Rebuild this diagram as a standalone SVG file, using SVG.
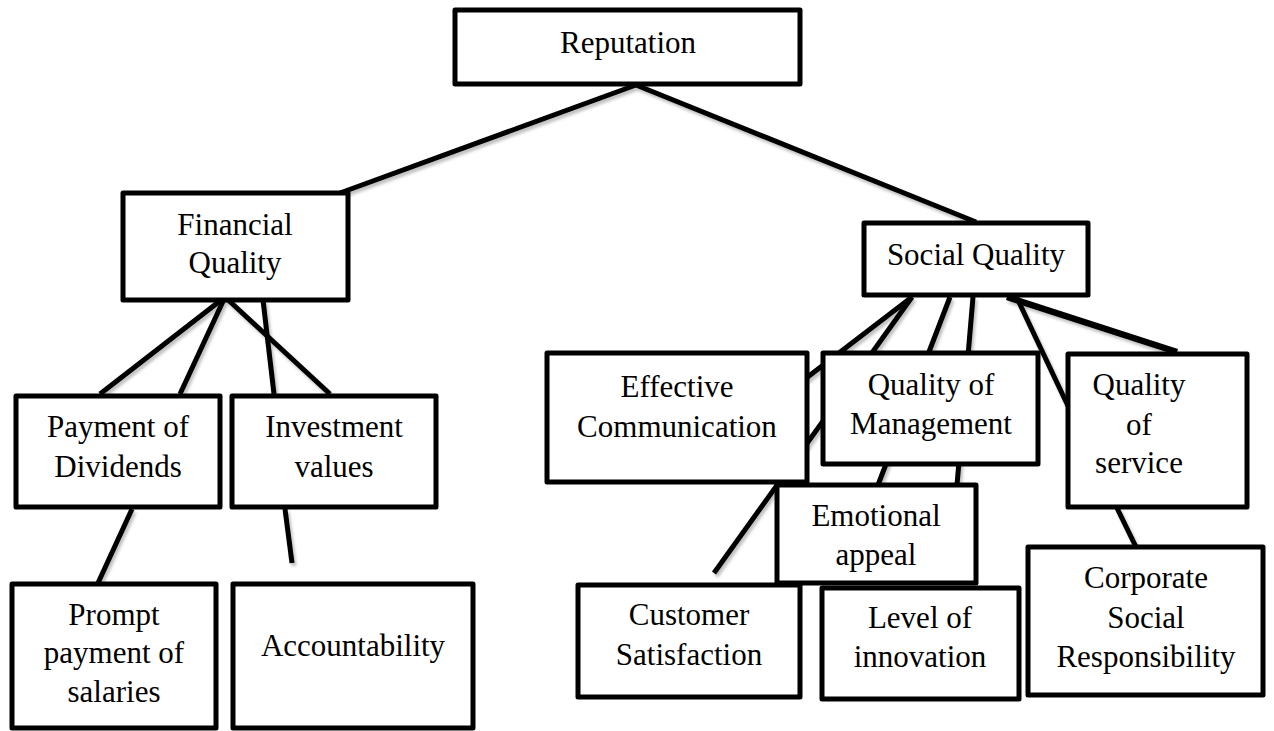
<svg xmlns="http://www.w3.org/2000/svg" width="1274" height="731" viewBox="0 0 1274 731">
  <defs>
    <filter id="soft" x="-10%" y="-10%" width="130%" height="130%">
      <feDropShadow dx="2" dy="3" stdDeviation="1.5" flood-color="#000" flood-opacity="0.25"/>
    </filter>
    <style>
      .box { fill: #fff; stroke: #000; stroke-width: 5; stroke-linejoin: round; }
      .link { stroke: #000; stroke-width: 5; fill: none; stroke-linecap: butt; }
      .thick { stroke-width: 6.5; }
      text { font-family: "Liberation Serif", "Times New Roman", serif; font-size: 31px; fill: #000; text-anchor: middle; }
    </style>
  </defs>
  <rect width="1274" height="731" fill="#fff"/>

  <!-- connectors (drawn first so boxes sit on top) -->
  <g id="connectors" filter="url(#soft)">
    <line class="link" x1="636" y1="85" x2="340" y2="193"/>
    <line class="link" x1="636" y1="85" x2="976" y2="222"/>
    <line class="link" x1="225" y1="297" x2="100" y2="394"/>
    <line class="link" x1="225" y1="297" x2="180" y2="394"/>
    <line class="link" x1="225" y1="297" x2="330" y2="394"/>
    <line class="link" x1="263" y1="300" x2="274" y2="394"/>
    <line class="link" x1="132" y1="509" x2="98" y2="583"/>
    <line class="link" x1="285" y1="509" x2="292" y2="563"/>
    <line class="link" x1="912" y1="297" x2="805" y2="379"/>
    <line class="link" x1="912" y1="297" x2="714" y2="573"/>
    <line class="link" x1="950" y1="297" x2="878" y2="485"/>
    <line class="link" x1="973" y1="297" x2="957" y2="485"/>
    <line class="link" x1="1017" y1="298" x2="1068" y2="406"/>
    <line class="link thick" x1="1007" y1="297" x2="1177" y2="352"/>
    <line class="link" x1="1117" y1="508" x2="1136" y2="547"/>
  </g>

  <g id="reputation">
    <rect class="box" x="455" y="10" width="345" height="74"/>
    <text x="628" y="53">Reputation</text>
  </g>

  <g id="financial-quality">
    <rect class="box" x="123" y="193" width="225" height="107"/>
    <text x="235" y="235">Financial</text>
    <text x="235" y="273">Quality</text>
  </g>

  <g id="social-quality">
    <rect class="box" x="864" y="223" width="224" height="72"/>
    <text x="976" y="265">Social Quality</text>
  </g>

  <g id="payment-of-dividends">
    <rect class="box" x="16" y="396" width="204" height="111"/>
    <text x="118" y="437">Payment of</text>
    <text x="118" y="477">Dividends</text>
  </g>

  <g id="investment-values">
    <rect class="box" x="232" y="396" width="204" height="111"/>
    <text x="334" y="437">Investment</text>
    <text x="334" y="477">values</text>
  </g>

  <g id="prompt-payment">
    <rect class="box" x="12" y="584" width="204" height="144"/>
    <text x="114" y="625">Prompt</text>
    <text x="114" y="663">payment of</text>
    <text x="114" y="702">salaries</text>
  </g>

  <g id="accountability">
    <rect class="box" x="233" y="584" width="240" height="144"/>
    <text x="353" y="656">Accountability</text>
  </g>

  <g id="effective-communication">
    <rect class="box" x="547" y="353" width="260" height="129"/>
    <text x="677" y="397">Effective</text>
    <text x="677" y="437">Communication</text>
  </g>

  <g id="quality-of-management">
    <rect class="box" x="823" y="353" width="215" height="111"/>
    <text x="931" y="395">Quality of</text>
    <text x="931" y="434">Management</text>
  </g>

  <g id="quality-of-service">
    <rect class="box" x="1068" y="354" width="179" height="153"/>
    <text x="1139" y="395">Quality</text>
    <text x="1139" y="435">of</text>
    <text x="1139" y="473">service</text>
  </g>

  <g id="emotional-appeal">
    <rect class="box" x="777" y="485" width="199" height="98"/>
    <text x="876" y="526">Emotional</text>
    <text x="876" y="565">appeal</text>
  </g>

  <g id="customer-satisfaction">
    <rect class="box" x="578" y="585" width="222" height="112"/>
    <text x="689" y="625">Customer</text>
    <text x="689" y="665">Satisfaction</text>
  </g>

  <g id="level-of-innovation">
    <rect class="box" x="822" y="588" width="197" height="111"/>
    <text x="920" y="628">Level of</text>
    <text x="920" y="667">innovation</text>
  </g>

  <g id="corporate-social-responsibility">
    <rect class="box" x="1028" y="547" width="235" height="148"/>
    <text x="1146" y="588">Corporate</text>
    <text x="1146" y="628">Social</text>
    <text x="1146" y="667">Responsibility</text>
  </g>
</svg>
